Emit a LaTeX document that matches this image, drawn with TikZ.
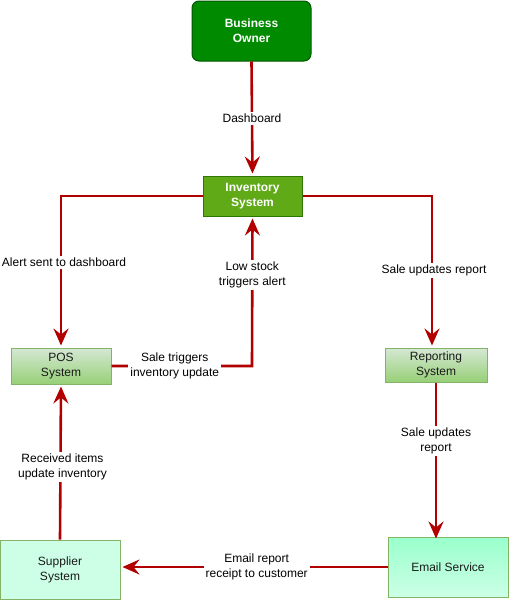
\documentclass[tikz,border=0pt]{standalone}
\usepackage{fontspec}
\setmainfont{Liberation Sans}
\usetikzlibrary{arrows.meta}
\definecolor{ownerfill}{HTML}{008A00}
\definecolor{ownerline}{HTML}{005700}
\definecolor{invfill}{HTML}{60A917}
\definecolor{invline}{HTML}{2D7600}
\definecolor{paleA}{HTML}{D5E8D4}
\definecolor{paleB}{HTML}{97D077}
\definecolor{paleline}{HTML}{82B366}
\definecolor{mint}{HTML}{CCFFE6}
\definecolor{mintB}{HTML}{99FFCC}
\definecolor{flow}{HTML}{B20000}
\begin{document}
\begin{tikzpicture}[x=1pt,y=-1pt,
  every node/.style={font=\fontsize{12}{15}\selectfont, align=center, inner sep=1pt},
  box/.style={draw, line width=1pt, minimum width=#1, text=black!90},
  box/.default=100pt,
  darkbox/.style={box=#1, text=white, font=\fontsize{12}{15}\selectfont\bfseries},
  greenfade/.style={top color=paleA, bottom color=paleB, draw=paleline},
  mintfade/.style={top color=mintB, bottom color=mint, draw=paleline},
  flowline/.style={draw=flow, line width=2.6pt,
    -{Stealth[length=17pt,width=15pt,inset=6pt]}, shorten >=2pt},
  lbl/.style={fill=white, text=black, inner sep=2pt}
]
\useasboundingbox (0,0) rectangle (509,600);

% system blocks
\node[darkbox=119pt, minimum height=60pt, rounded corners=7pt,
      fill=ownerfill, draw=ownerline] (owner) at (251.5,31) {Business\\Owner};
\node[darkbox=99pt, minimum height=40pt, fill=invfill, draw=invline]
      (inv) at (252.5,196) {Inventory\\System};
\node[box=100pt, minimum height=36pt, greenfade] (pos) at (61,366) {POS\\System};
\node[box=102pt, minimum height=34pt, greenfade] (rep) at (436,365) {Reporting\\System};
\node[box=120pt, minimum height=59pt, fill=mint, draw=paleline]
      (sup) at (60,569.5) {Supplier\\System};
\node[box=120pt, minimum height=60pt, mintfade] (mail) at (448,567) {Email Service};

% turning points of the elbow connectors
\coordinate (invL) at (61,196);
\coordinate (invR) at (432,196);
\coordinate (posR) at (252,366);

% connectors
\draw[flowline] (owner.south) -- node[lbl, pos=0.5] {Dashboard} (inv.north);
\draw[flowline] (inv.west) -- (invL) -- node[lbl, pos=0.44, xshift=3pt] {Alert sent to dashboard} (pos.north);
\draw[flowline] (pos.east) -- node[lbl, pos=0.45] {Sale triggers\\inventory update} (posR)
  -- node[lbl, pos=0.61] {Low stock\\triggers alert} (inv.south);
\draw[flowline] (inv.east) -- (invR) -- node[lbl, pos=0.49, xshift=2pt] {Sale updates report} (invR |- rep.north);
\draw[flowline] (rep.south) -- node[lbl, pos=0.37] {Sale updates\\report} ([yshift=-4pt]rep.south |- mail.north);
\draw[flowline] (mail.west) -- node[lbl, pos=0.49] {Email report\\receipt to customer} (sup.east |- mail.west);
\draw[flowline] (sup.north) -- node[lbl, pos=0.47, xshift=2pt] {Received items\\update inventory} (pos.south);
\end{tikzpicture}
\end{document}
